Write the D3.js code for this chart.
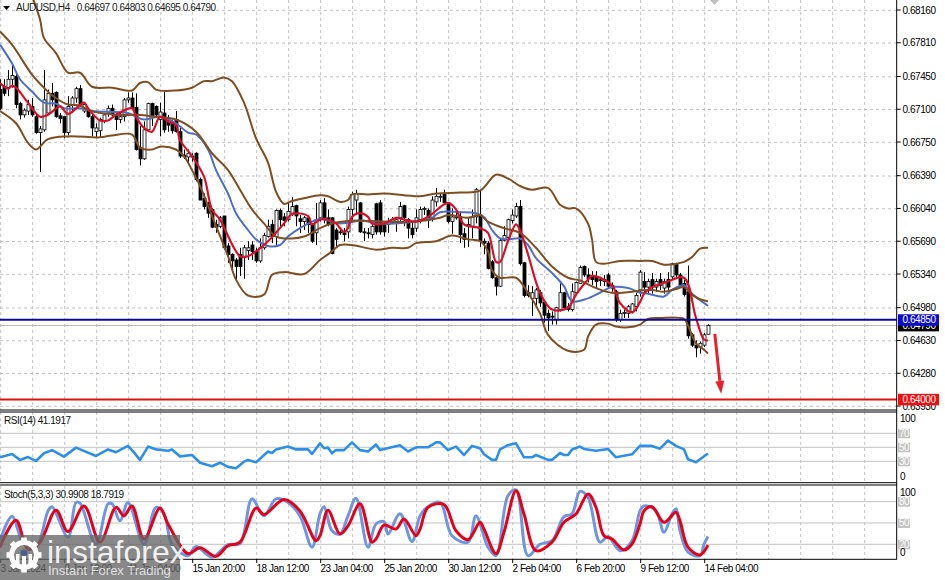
<!DOCTYPE html>
<html><head><meta charset="utf-8">
<style>html,body{margin:0;padding:0;background:#fff}svg{display:block}text{font-family:"Liberation Sans",Arial,sans-serif}</style>
<script src="https://cdn.jsdelivr.net/npm/d3@7"></script></head><body><div id="c"></div>
<script>
// Prices are quoted in units of 0.0001
const opens=[6731,6734,6733,6742,6745,6716,6704,6708,6713,6702,
6685,6688,6706,6727,6728,6703,6702,6685,6715,6722,
6732,6708,6708,6702,6686,6687,6697,6706,6711,6704,
6699,6702,6720,6722,6712,6669,6657,6688,6716,6713,
6699,6706,6699,6695,6699,6686,6661,6659,6660,6663,
6635,6615,6608,6603,6587,6585,6596,6564,6555,6549,
6555,6553,6559,6565,6558,6548,6562,6574,6587,6574,
6602,6595,6592,6599,6607,6593,6590,6594,6587,6578,
6594,6610,6594,6594,6581,6579,6578,6579,6603,6613,
6610,6579,6578,6576,6609,6610,6587,6587,6589,6590,
6594,6607,6592,6583,6583,6592,6603,6602,6594,6611,
6616,6620,6610,6590,6594,6595,6577,6585,6585,6595,
6597,6569,6567,6547,6530,6521,6570,6573,6591,6596,
6606,6546,6514,6508,6508,6514,6504,6492,6489,6485,
6496,6514,6499,6496,6514,6524,6542,6533,6531,6531,
6527,6526,6533,6522,6515,6485,6492,6492,6494,6499,
6517,6526,6520,6528,6520,6528,6519,6528,6531,6545,
6533,6524,6515,6469,6458,6456,6458,6469.7];
const highs=[6742,6742,6752,6758,6750,6718,6711,6720,6722,6706,
6692,6752,6731,6738,6729,6706,6702,6724,6724,6734,
6736,6717,6711,6706,6695,6701,6706,6714,6715,6708,
6706,6722,6728,6728,6727,6692,6697,6717,6717,6714,
6717,6729,6704,6699,6708,6690,6667,6667,6663,6664,
6637,6620,6611,6604,6592,6596,6596,6567,6556,6551,
6562,6565,6569,6569,6562,6572,6578,6592,6592,6603,
6604,6599,6610,6616,6608,6597,6596,6596,6588,6610,
6613,6615,6603,6595,6583,6583,6583,6606,6622,6624,
6611,6583,6583,6587,6610,6613,6587,6594,6595,6595,
6611,6608,6594,6590,6603,6606,6606,6604,6617,6626,
6620,6624,6611,6604,6601,6601,6583,6595,6603,6626,
6624,6572,6569,6549,6531,6572,6585,6593,6603,6610,
6613,6547,6522,6521,6519,6517,6506,6496,6494,6499,
6524,6515,6503,6524,6526,6543,6543,6540,6537,6537,
6531,6533,6535,6525,6517,6496,6496,6501,6503,6514,
6538,6536,6529,6535,6529,6535,6529,6536,6546,6546,
6535,6528,6543,6471,6463,6462,6471,6480.3];
const lows=[6709,6724,6724,6733,6711,6699,6701,6704,6702,6684,
6643,6686,6704,6713,6701,6695,6679,6682,6706,6717,
6713,6706,6701,6681,6680,6680,6695,6702,6702,6688,
6695,6697,6717,6709,6666,6650,6656,6686,6692,6702,
6681,6685,6686,6684,6685,6658,6657,6653,6654,6633,
6613,6603,6594,6583,6578,6583,6560,6546,6537,6528,
6532,6529,6549,6549,6546,6546,6560,6573,6567,6565,
6585,6585,6590,6596,6585,6578,6581,6578,6567,6565,
6590,6588,6585,6555,6563,6576,6569,6572,6592,6597,
6578,6569,6572,6572,6576,6576,6574,6578,6588,6579,
6590,6585,6572,6572,6579,6588,6597,6583,6590,6606,
6611,6610,6588,6577,6592,6567,6562,6563,6572,6588,
6563,6555,6539,6529,6511,6520,6569,6570,6588,6594,
6543,6509,6509,6489,6499,6499,6482,6473,6480,6480,
6494,6496,6494,6494,6514,6524,6531,6525,6522,6519,
6521,6521,6519,6515,6483,6483,6487,6487,6492,6494,
6510,6513,6512,6513,6515,6517,6513,6517,6528,6531,
6520,6510,6465,6456,6445,6449,6456,6469.5];
const closes=[6711,6727,6742,6746,6715,6704,6709,6715,6704,6685,
6689,6720,6727,6720,6702,6700,6685,6713,6722,6732,
6715,6715,6702,6690,6690,6699,6704,6711,6704,6699,
6702,6720,6722,6711,6667,6657,6688,6716,6702,6704,
6707,6688,6693,6687,6686,6660,6659,6663,6659,6635,
6613,6606,6599,6584,6584,6594,6562,6555,6548,6542,
6542,6562,6562,6558,6548,6562,6575,6585,6574,6602,
6592,6591,6601,6606,6596,6590,6594,6587,6569,6592,
6610,6594,6587,6556,6571,6578,6576,6603,6619,6620,
6579,6578,6577,6585,6579,6579,6579,6588,6592,6592,
6606,6594,6583,6576,6594,6603,6604,6594,6613,6617,
6617,6610,6590,6595,6595,6576,6571,6587,6595,6624,
6569,6567,6540,6530,6521,6570,6575,6592,6597,6606,
6545,6511,6511,6514,6517,6503,6490,6487,6488,6498,
6514,6498,6496,6515,6525,6541,6533,6529,6528,6526,
6528,6528,6521,6519,6485,6492,6493,6499,6502,6511,
6536,6520,6526,6520,6526,6522,6526,6520,6545,6533,
6522,6512,6468,6458,6455,6460,6469,6479];

const upperBars=[8,10,11,14,17,20,23,28,33,35,37,39,44,48,51,53,56,58,61,64,67,69,71,73,76,80,82,85,87,88,92,96,105,109,115,120,124,127,130,133,137,140,142,144,147,148,149,151,155,160,163,166,171,173,175,177];
const upperVals=[6831,6806,6786,6770,6749,6749,6734,6733,6730,6738,6739,6731,6730,6733,6740,6740,6744,6740,6717,6679,6653,6622,6609,6612,6615,6618,6617,6611,6613,6619,6619,6620,6617,6620,6621,6623,6640,6636,6628,6624,6626,6608,6604,6604,6588,6571,6547,6545,6548,6548,6548,6544,6547,6552,6561,6562];
const lowerBars=[0,4,7,9,12,17,25,28,33,35,38,40,44,46,48,50,53,57,59,62,66,68,71,76,80,82,84,85,88,94,98,102,104,109,113,117,120,122,123,125,129,132,135,137,142,146,147,149,152,154,157,160,162,165,171,172,174,176,177];
const lowerVals=[6708,6695,6674,6667,6678,6681,6680,6682,6683,6669,6667,6670,6667,6660,6645,6628,6596,6553,6528,6511,6512,6533,6536,6534,6549,6555,6562,6565,6565,6560,6562,6562,6567,6569,6575,6571,6569,6558,6538,6530,6530,6514,6492,6469,6452,6453,6467,6480,6481,6478,6477,6480,6486,6487,6486,6479,6460,6453,6449];
const middleBars=[0,3,8,11,13,17,20,22,29,34,39,44,49,53,57,60,63,66,69,73,76,80,83,88,96,104,110,112,117,120,122,126,130,134,138,142,145,149,153,160,163,166,169,171,173,175,177];
const middleVals=[6793,6779,6747,6733,6725,6715,6714,6709,6704,6704,6702,6699,6686,6663,6645,6624,6603,6588,6574,6572,6574,6583,6588,6591,6590,6590,6594,6597,6594,6597,6590,6583,6578,6562,6542,6530,6527,6519,6514,6516,6517,6515,6518,6520,6512,6507,6505];
const slowMaBars=[0,3,5,8,11,14,16,20,23,32,34,36,40,44,47,49,52,54,57,59,62,64,67,70,72,75,80,82,85,91,94,102,105,108,110,115,119,121,123,125,127,130,132,134,138,141,143,147,150,153,157,160,162,166,168,171,173,177];
const slowMaVals=[6779,6759,6742,6729,6717,6716,6711,6711,6708,6706,6702,6699,6702,6695,6685,6683,6667,6645,6620,6599,6581,6571,6564,6565,6574,6583,6593,6591,6588,6591,6588,6589,6591,6594,6600,6600,6599,6595,6581,6572,6571,6572,6565,6551,6535,6521,6505,6508,6514,6520,6519,6514,6513,6510,6517,6522,6513,6500];
const fastMaBars=[0,2,3,4,7,10,12,15,17,21,22,25,27,29,33,34,36,38,40,42,44,45,48,51,53,55,60,62,67,71,73,77,78,80,82,84,86,87,88,90,92,93,96,99,101,104,107,112,114,116,120,122,124,125,127,129,130,132,135,138,142,144,147,148,153,155,158,160,161,163,165,167,171,174,176,177];
const fastMaVals=[6738,6732,6735,6733,6717,6702,6704,6713,6705,6717,6711,6698,6698,6704,6711,6702,6690,6686,6702,6697,6693,6677,6660,6638,6603,6592,6553,6553,6569,6588,6598,6596,6587,6592,6592,6588,6579,6583,6595,6599,6595,6588,6588,6594,6592,6590,6595,6610,6603,6587,6583,6578,6547,6547,6569,6587,6581,6555,6514,6496,6498,6512,6528,6532,6522,6503,6493,6504,6513,6520,6523,6526,6530,6487,6464,6463];

const rsiBars=[0,3,5,7,9,11,13,16,19,24,27,29,32,33,35,37,39,42,43,45,48,50,53,55,57,59,61,62,64,67,68,69,72,74,77,78,80,81,82,83,84,86,88,90,92,94,95,100,102,104,107,109,110,112,114,116,118,120,121,123,124,125,127,129,131,133,134,137,138,140,141,142,143,145,146,149,152,154,158,160,162,163,165,167,169,171,172,174,175,177];
const rsiVals=[35.7,40.5,32,36,30.5,41.5,46,36.7,49.5,37.6,47,43,52,46,32,51,47,45,47,37,39,28,23,28,22,20,29.5,32,28.5,44,42,47,51,47,47,40.5,55.7,48.6,49.5,41.4,46,46,57,46,44,54,46,53,44,50,50,57,57,46,51,39,52,48.6,40,32,32,47,53,55.7,35.7,35.7,39,32,32,42,39,39,47,51,47.6,45,47.6,35.7,40,52,52,52,48,59.5,52,47,33,28.6,33,41.19];
const stochMainBars=[0,3,6,9,12,13,17,19,20,24,27,28,30,32,36,39,41,43,47,49,53,57,60,63,66,69,72,75,78,80,81,83,85,87,89,92,94,96,97,100,103,105,107,110,113,117,119,122,124,127,129,132,135,138,141,143,145,147,150,152,155,158,160,161,164,166,168,169,170,172,175,176,177];
const stochMainVals=[25,59,20,16,67,73,30,79,78,20,77,77,53,79,20,72,63,20,4,17,2,19.5,21,84,60,84,79,60,16,63,73,39,34.5,60,85,16,48.6,52,34.5,63,24,60,73,79,32,23,60,16,4,88.5,96.5,4,20,25,59,63,94.6,86,23,31,11,25,67,74,67,37,63,70,39,9,4,20,30.99];
const stochSignalBars=[0,4,7,10,14,17,21,25,29,31,33,36,40,42,47,50,54,57,60,64,66,71,75,79,80,82,85,87,90,93,94,96,99,101,104,105,107,111,114,117,120,121,124,126,129,131,134,138,141,144,147,149,151,153,156,158,160,161,163,166,169,170,172,175,177];
const stochSignalVals=[16,54,13,23,68,38,74,23,72,60,74,27.5,71,48.6,7,15,3,18,23,71,62,83,67,25,32,68,34.5,46,77,23,27.5,47,41.5,55.6,32,41.5,72,76,39,26.5,51,41.5,7,37,95.5,62.7,11,23,51,62.7,91,72,32,27.5,12,20.4,48.6,67,73,51,65,53,16,5,18.79];

const priceTicks=[6816,6781,6745,6710,6675,6639,6604,6569,6534,6498,6463,6428,6393];
const rsiTicks=[70,50,30];
const stochTicks=[80,50,20];
const timeBars=[0,16,32,48,64,80,96,112,128,144,160,176];
const timeLabels=["3 Jan 2024","8 Jan 12:00","11 Jan 04:00","15 Jan 20:00","18 Jan 12:00","23 Jan 04:00","25 Jan 20:00","30 Jan 12:00","2 Feb 04:00","6 Feb 20:00","9 Feb 12:00","14 Feb 04:00"];
const supportLevel=6485, targetLevel=6400, lastPrice=6479;
const arrowFrom=[178.7,6470], arrowTo=[180.3,6406];

const W=945,H=580,axisX=896.7;
const svg=d3.select("#c").append("svg").attr("width",W).attr("height",H);
const x=d3.scaleLinear().domain([0,177]).range([0,708]);
const y=d3.scaleLinear().domain([6816,6393]).range([10,406]);
const yR=d3.scaleLinear().domain([0,100]).range([482.3,412.3]);
const yS=d3.scaleLinear().domain([0,100]).range([558.5,487.5]);
const defs=svg.append("defs");
const clip=(id,y0,y1)=>defs.append("clipPath").attr("id",id).append("rect").attr("x",0).attr("y",y0).attr("width",axisX).attr("height",y1-y0);
clip("cm",0,410);clip("cr",412,482.5);clip("cs",486,559);

const grid="#c2c2c2";
const vBars=d3.range(0,224,8);
const vg=svg.append("g").attr("stroke",grid).attr("stroke-dasharray","3,3").attr("stroke-width",1);
[[0,410],[412,482],[486,559]].forEach(([a,b])=>vg.selectAll(null).data(vBars).join("line")
  .attr("x1",d=>x(d)+.7).attr("x2",d=>x(d)+.7).attr("y1",a).attr("y2",b));
svg.append("g").attr("stroke",grid).attr("stroke-dasharray","3,3").selectAll("line").data(priceTicks).join("line")
  .attr("x1",0).attr("x2",axisX).attr("y1",d=>y(d)+.3).attr("y2",d=>y(d)+.3);
svg.append("g").attr("stroke",grid).selectAll("line").data(rsiTicks).join("line").attr("x1",0).attr("x2",axisX).attr("y1",d=>yR(d)).attr("y2",d=>yR(d));
svg.append("g").attr("stroke",grid).selectAll("line").data(stochTicks).join("line").attr("x1",0).attr("x2",axisX).attr("y1",d=>yS(d)).attr("y2",d=>yS(d));
svg.append("line").attr("x1",0).attr("x2",axisX).attr("y1",y(lastPrice)).attr("y2",y(lastPrice)).attr("stroke","#bdbdbd").attr("stroke-width",1);

const main=svg.append("g").attr("clip-path","url(#cm)");
const bars=d3.range(opens.length);
main.append("g").attr("stroke","#000").selectAll("line").data(bars).join("line")
  .attr("x1",i=>x(i)+.5).attr("x2",i=>x(i)+.5).attr("y1",i=>y(highs[i])).attr("y2",i=>y(lows[i]));
main.append("g").selectAll("rect").data(bars).join("rect")
  .attr("x",i=>x(i)-1).attr("width",3)
  .attr("y",i=>y(Math.max(opens[i],closes[i]))).attr("height",i=>Math.max(1,Math.abs(y(opens[i])-y(closes[i]))))
  .attr("fill",i=>closes[i]>=opens[i]?"#fff":"#000").attr("stroke","#000").attr("stroke-width",.8);

const smooth=d3.curveCatmullRom.alpha(0.5);
const drawLine=(g,sx,sy,bs,vs,col,w,curve)=>g.append("path")
  .datum(bs.map((b,k)=>[b,vs[k]]))
  .attr("d",d3.line().x(d=>sx(d[0])).y(d=>sy(d[1])).curve(curve||d3.curveLinear))
  .attr("fill","none").attr("stroke",col).attr("stroke-width",w).attr("stroke-linejoin","round");
const brown="#7f4f24";
drawLine(main,x,y,slowMaBars,slowMaVals,"#4f6fc4",2,smooth);
drawLine(main,x,y,upperBars,upperVals,brown,2,smooth);
drawLine(main,x,y,middleBars,middleVals,brown,2,smooth);
drawLine(main,x,y,lowerBars,lowerVals,brown,2,smooth);
drawLine(main,x,y,fastMaBars,fastMaVals,"#d5122b",2.2,smooth);

svg.append("line").attr("x1",0).attr("x2",axisX).attr("y1",y(supportLevel)).attr("y2",y(supportLevel)).attr("stroke","#0b0b96").attr("stroke-width",2);
svg.append("line").attr("x1",0).attr("x2",axisX).attr("y1",y(targetLevel)).attr("y2",y(targetLevel)).attr("stroke","#e31212").attr("stroke-width",2);

const ax0=x(arrowFrom[0]),ay0=y(arrowFrom[1]),ax1=x(arrowTo[0]),ay1=y(arrowTo[1]);
const ang=Math.atan2(ay1-ay0,ax1-ax0),hl=13,hw=4.5;
const bx=ax1-hl*Math.cos(ang),by=ay1-hl*Math.sin(ang);
svg.append("line").attr("x1",ax0).attr("y1",ay0).attr("x2",bx).attr("y2",by).attr("stroke","#e8202a").attr("stroke-width",3);
svg.append("path").attr("fill","#e8202a").attr("d",d3.line()([[ax1,ay1],[bx-hw*Math.sin(ang),by+hw*Math.cos(ang)],[bx+hw*Math.sin(ang),by-hw*Math.cos(ang)]])+"Z");

const pR=svg.append("g").attr("clip-path","url(#cr)");
drawLine(pR,x,yR,rsiBars,rsiVals,"#2f8fe6",2.6);
const pS=svg.append("g").attr("clip-path","url(#cs)");
drawLine(pS,x,yS,stochMainBars,stochMainVals,"#6f97dd",3,smooth);
drawLine(pS,x,yS,stochSignalBars,stochSignalVals,"#e2001c",3,smooth);

const fr=svg.append("g").attr("stroke","#000").attr("stroke-width",1);
[410,412,482.7,485,559.3].forEach(v=>fr.append("line").attr("x1",0).attr("x2",axisX).attr("y1",v).attr("y2",v));
fr.append("line").attr("x1",axisX).attr("x2",axisX).attr("y1",0).attr("y2",559.5);

const fs=10, ls="-0.45px";
const label=(tx,ty,s,col="#000",anc="start",size=fs)=>svg.append("text").attr("x",tx).attr("y",ty).attr("fill",col).attr("text-anchor",anc)
  .attr("font-size",size).attr("letter-spacing",ls).text(s);

svg.append("g").attr("stroke","#000").selectAll("line").data(priceTicks).join("line")
  .attr("x1",axisX).attr("x2",axisX+4).attr("y1",d=>y(d)).attr("y2",d=>y(d));
priceTicks.forEach(d=>label(902.5,y(d)+3.6,(d/1e4).toFixed(5)));
const tag=(v,col,tcol)=>{const yy=y(v);
  svg.append("rect").attr("x",898).attr("y",yy-5.6).attr("width",41).attr("height",11.5).attr("fill",col);
  label(902.5,yy+3.6,(v/1e4).toFixed(5),tcol);};
tag(lastPrice,"#000","#fff");
tag(supportLevel,"#0d0dcc","#fff");
tag(targetLevel,"#f00f0f","#fff");

const boxLab=(yy,s)=>{svg.append("rect").attr("x",898).attr("y",yy-4.5).attr("width",12).attr("height",9.5).attr("fill","#c4c4c4");
  label(904,yy+3.4,s,"#fff","middle");};
rsiTicks.forEach(v=>boxLab(yR(v),String(v)));
stochTicks.forEach(v=>boxLab(yS(v),String(v)));
label(900,421.5,"100");label(900,480,"0");
label(900,496,"100");label(900,556,"0");

svg.append("g").attr("stroke","#000").selectAll("line").data(timeBars).join("line")
  .attr("x1",d=>x(d)+.7).attr("x2",d=>x(d)+.7).attr("y1",559).attr("y2",563);
timeBars.forEach((b,k)=>label(x(b)+.5,572,timeLabels[k]));

svg.append("path").attr("d",d3.line()([[3,6],[10,6],[6.5,10]])+"Z").attr("fill","#000");
label(16,10.5,"AUDUSD,H4\u00a0\u00a0 0.64697 0.64803 0.64695 0.64790","#222");
label(4,424,"RSI(14) 41.1917","#111");
label(4,498,"Stoch(5,3,3) 30.9908 18.7919","#111");
svg.append("path").attr("d",d3.line()([[710,0],[719,0],[714.5,5]])+"Z").attr("fill","#c0c0c0");

const wm=svg.append("g");
wm.append("rect").attr("x",0).attr("y",535).attr("width",180).attr("height",45).attr("fill","#666").attr("fill-opacity",.78);
const gear=wm.append("g").attr("transform","translate(24,555)").attr("fill","#fff");
d3.range(8).forEach(k=>gear.append("rect").attr("x",-2.8).attr("y",-17.5).attr("width",5.6).attr("height",7).attr("transform",`rotate(${k*45})`));
gear.append("circle").attr("r",12.5).attr("fill","none").attr("stroke","#fff").attr("stroke-width",5);
gear.append("circle").attr("cy",-2).attr("r",3.4).attr("fill","#4a5f8c");
gear.append("rect").attr("x",-2).attr("y",1).attr("width",4).attr("height",11);
gear.append("rect").attr("x",-8).attr("y",-1).attr("width",3.5).attr("height",11);
gear.append("rect").attr("x",4.5).attr("y",-1).attr("width",3.5).attr("height",11);
wm.append("text").attr("x",47).attr("y",563).attr("fill","#fff").attr("fill-opacity",.9).attr("font-size",32).attr("font-family","Lato, 'Open Sans', sans-serif").attr("font-weight",300).text("instaforex");
wm.append("text").attr("x",48).attr("y",575).attr("fill","#fff").attr("fill-opacity",.75).attr("font-size",13).attr("font-family","Lato, 'Open Sans', sans-serif").text("Instant Forex Trading");
</script></body></html>
